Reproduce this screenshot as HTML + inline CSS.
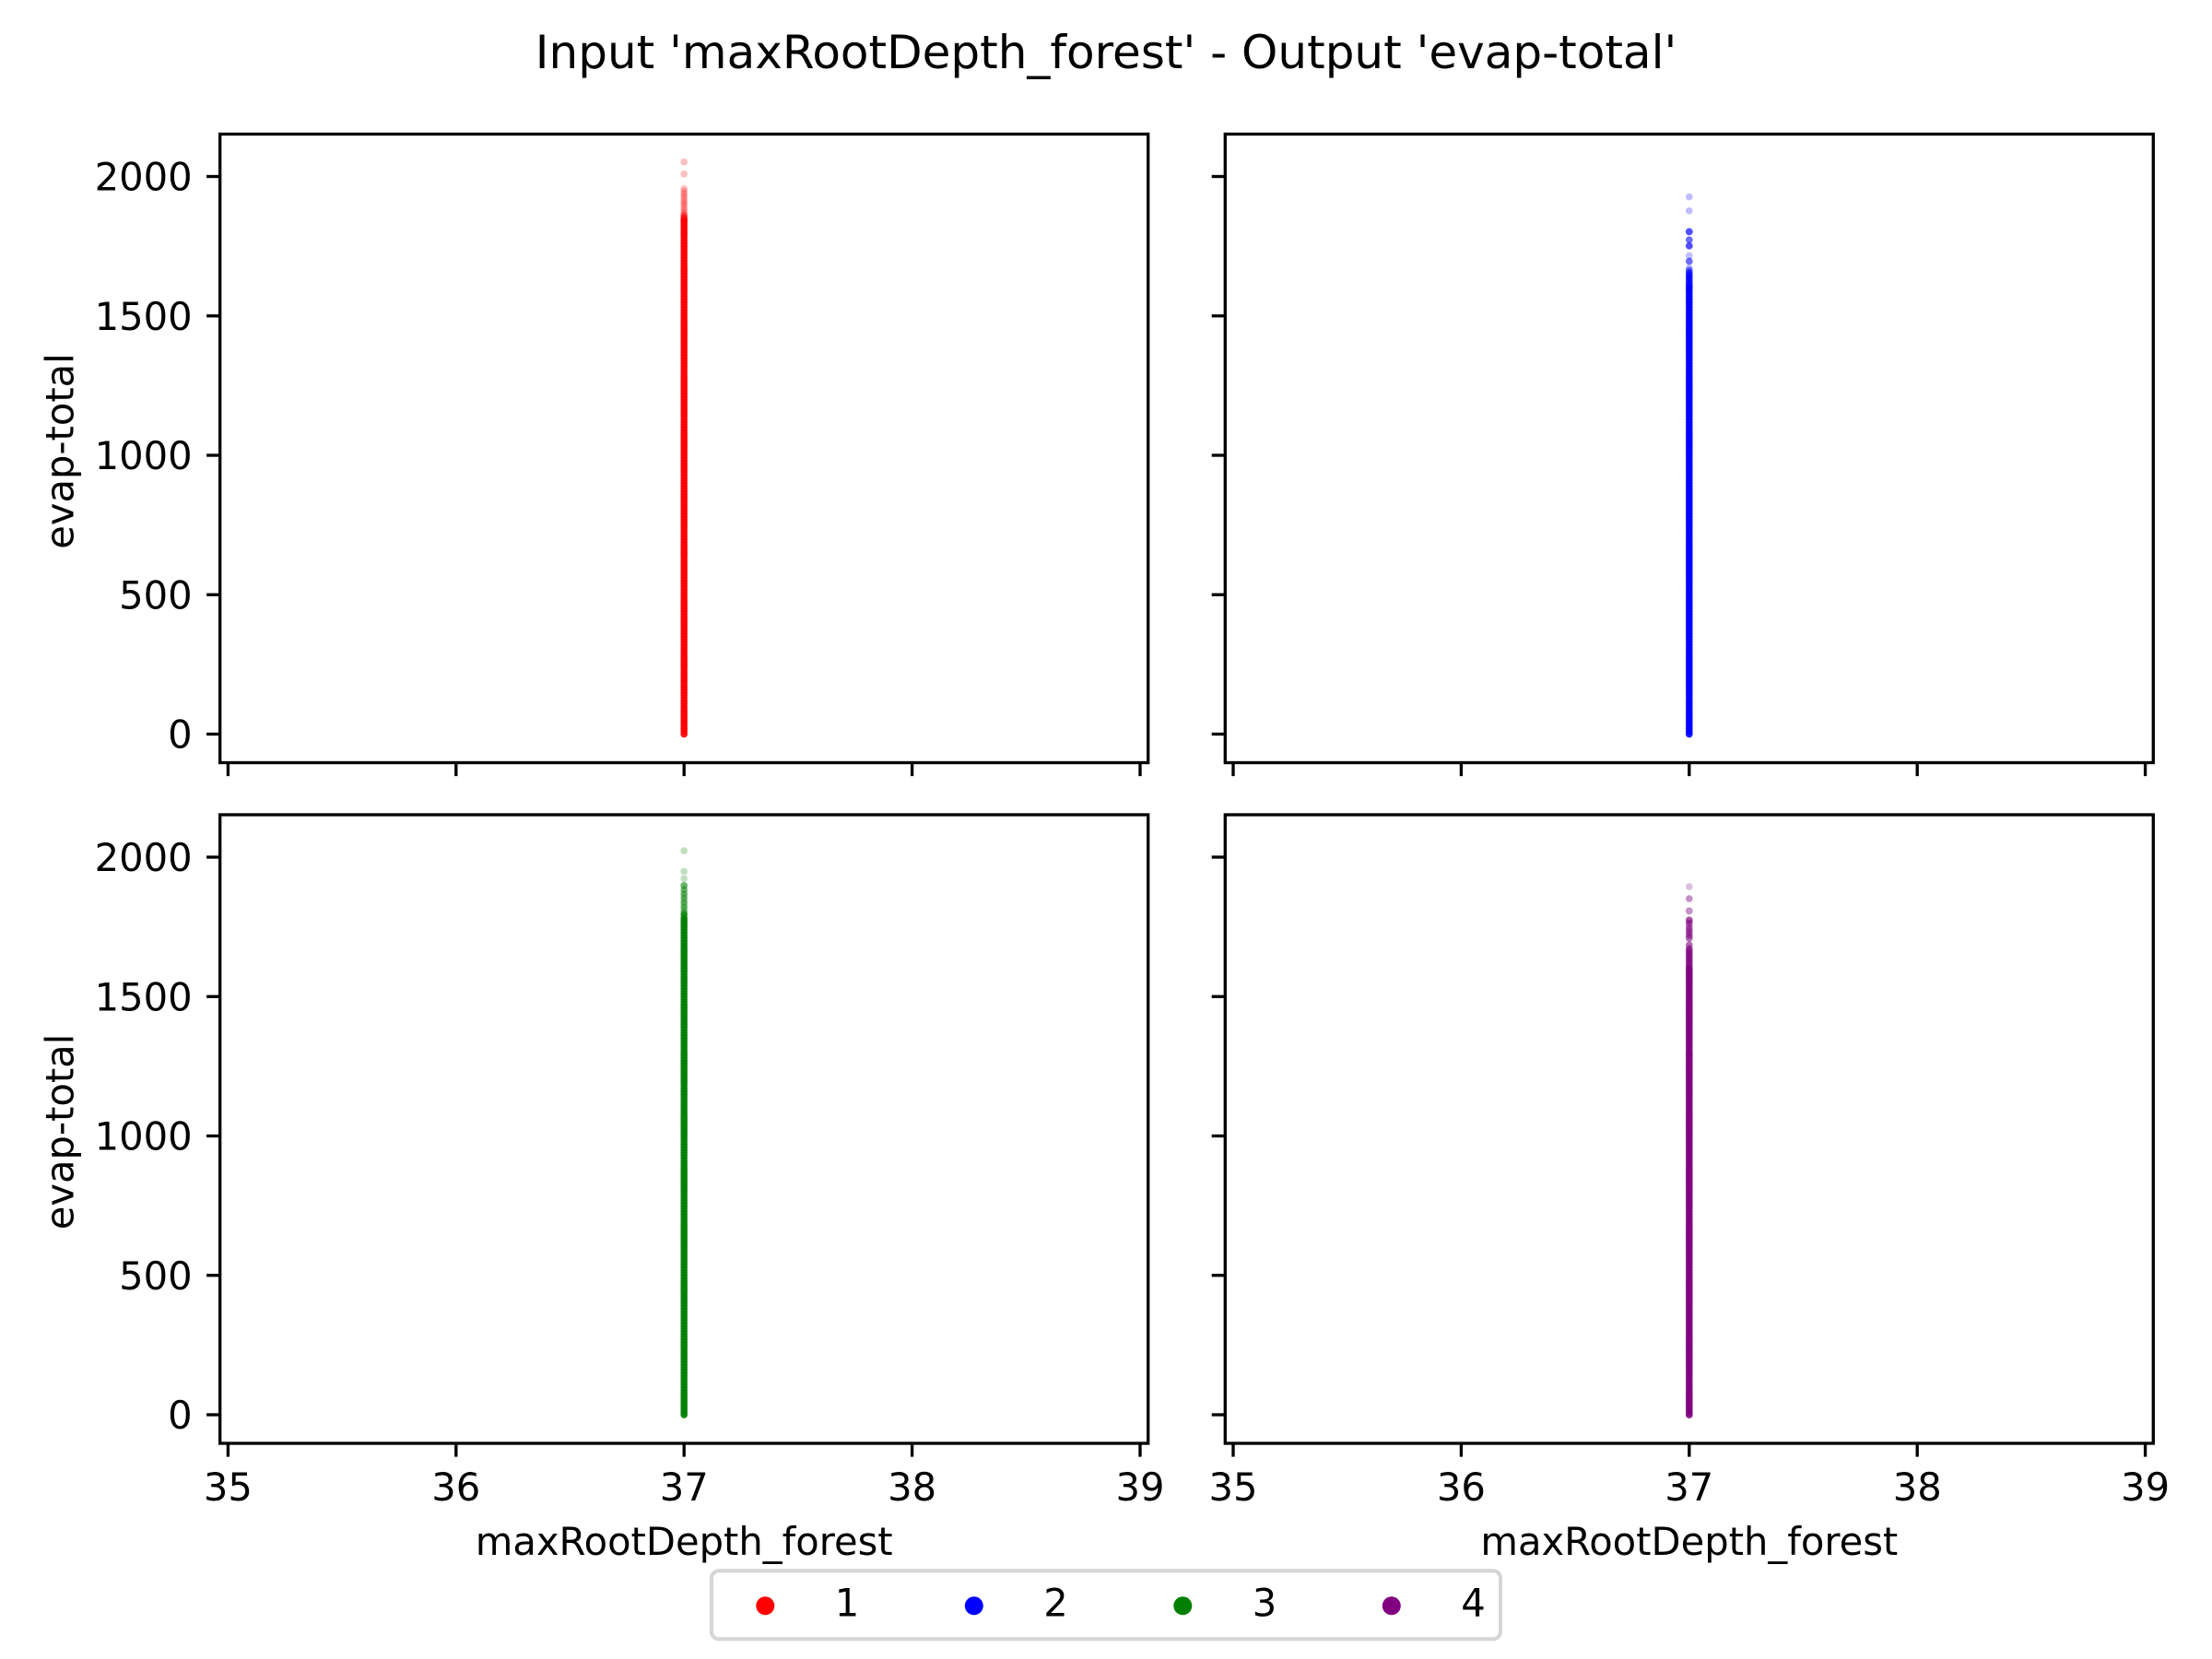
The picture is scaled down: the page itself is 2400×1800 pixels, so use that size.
<!DOCTYPE html>
<html lang="en">
<head>
<meta charset="utf-8">
<title>Input 'maxRootDepth_forest' - Output 'evap-total'</title>
<style>
html,body{margin:0;padding:0;background:#fff;width:2400px;height:1800px;overflow:hidden}
svg{display:block}
text{font-family:"DejaVu Sans","Liberation Sans",sans-serif;fill:#000}
</style>
</head>
<body>
<svg id="chart" xmlns="http://www.w3.org/2000/svg" width="2400" height="1800" viewBox="0 0 2400 1800">
  <rect x="0" y="0" width="2400" height="1800" fill="#fff"/>
  <text x="1200" y="74" font-size="50" text-anchor="middle">Input 'maxRootDepth_forest' - Output 'evap-total'</text>
  <g id="panels"></g>
  <g id="legend"></g>
</svg>
<script>
const xTicks = [35, 36, 37, 38, 39];
const yTicks = [0, 500, 1000, 1500, 2000];
const seriesLabels = ['1', '2', '3', '4'];
const seriesColors = ['#ff0000', '#0000ff', '#008000', '#800080'];
const xLabel = 'maxRootDepth_forest';
const yLabel = 'evap-total';
const inputValue = 37;

const redBody = [0,10,20,30,40,50,60,70,80,90,100,110,120,130,140,150,160,170,180,190,200,210,220,230,240,250,260,270,280,290,300,310,320,330,340,350,360,370,380,390,400,410,420,430,440,450,460,470,480,490,500,510,520,530,540,550,560,570,580,590,600,610,620,630,640,650,660,670,680,690,700,710,720,730,740,750,760,770,780,790,800,810,820,830,840,850,860,870,880,890,900,910,920,930,940,950,960,970,980,990,1000,1010,1020,1030,1040,1050,1060,1070,1080,1090,1100,1110,1120,1130,1140,1150,1160,1170,1180,1190,1200,1210,1220,1230,1240,1250,1260,1270,1280,1290,1300,1310,1320,1330,1340,1350,1360,1370,1380,1390,1400,1410,1420,1430,1440,1450,1460,1470,1480,1490,1500,1510,1520,1530,1540,1550,1560,1570,1580,1590,1600,1610,1620,1630,1640,1650,1660,1670,1680,1690,1700,1710,1720,1730,1740,1750,1760,1770,1780,1790,1800,1810,1820,1830,1840];
const redSparse = [2052,2009,1956,1947,1938,1930,1922,1912,1905,1897,1888,1880,1872,1866,1860,1860,1856,1852,1852,1848,1848,1846,1846];

const blueBody = [0,10,20,30,40,50,60,70,80,90,100,110,120,130,140,150,160,170,180,190,200,210,220,230,240,250,260,270,280,290,300,310,320,330,340,350,360,370,380,390,400,410,420,430,440,450,460,470,480,490,500,510,520,530,540,550,560,570,580,590,600,610,620,630,640,650,660,670,680,690,700,710,720,730,740,750,760,770,780,790,800,810,820,830,840,850,860,870,880,890,900,910,920,930,940,950,960,970,980,990,1000,1010,1020,1030,1040,1050,1060,1070,1080,1090,1100,1110,1120,1130,1140,1150,1160,1170,1180,1190,1200,1210,1220,1230,1240,1250,1260,1270,1280,1290,1300,1310,1320,1330,1340,1350,1360,1370,1380,1390,1400,1410,1420,1430,1440,1450,1460,1470,1480,1490,1500,1510,1520,1530,1540,1550,1560,1570,1580,1590,1600];
const blueSparse = [1927,1877,1802,1802,1802,1802,1773,1773,1773,1751,1751,1751,1751,1716,1696,1696,1696,1672,1664,1664,1658,1658,1652,1652,1652,1646,1646,1646,1640,1640,1640,1634,1634,1634,1628,1628,1628,1622,1622,1622,1616,1616,1616,1610,1610,1610,1605,1605,1605];

const greenBody = [0,10,20,30,40,50,60,70,80,90,100,110,120,130,140,150,160,170,180,190,200,210,220,230,240,250,260,270,280,290,300,310,320,330,340,350,360,370,380,390,400,410,420,430,440,450,460,470,480,490,500,510,520,530,540,550,560,570,580,590,600,610,620,630,640,650,660,670,680,690,700,710,720,730,740,750,760,770,780,790,800,810,820,830,840,850,860,870,880,890,900,910,920,930,940,950,960,970,980,990,1000,1010,1020,1030,1040,1050,1060,1070,1080,1090,1100,1110,1120,1130,1140,1150,1160,1170,1180,1190,1200,1210,1220,1230,1240,1250,1260,1270,1280,1290,1300,1310,1320,1330,1340,1350,1360,1370,1380,1390,1400,1410,1420,1430,1440,1450,1460,1470,1480,1490,1500,1510,1520,1530,1540,1550,1560,1570,1580,1590,1600,1610,1620,1630,1640,1650,1660,1670,1680,1690,1700,1710,1720,1730,1740,1750,1760,1770,1780];
const greenSparse = [2023,1949,1923,1898,1898,1898,1884,1884,1876,1868,1868,1860,1852,1852,1844,1836,1836,1828,1820,1820,1812,1804,1804,1796,1796,1796,1790,1790,1790];

const purpleBody = [0,10,20,30,40,50,60,70,80,90,100,110,120,130,140,150,160,170,180,190,200,210,220,230,240,250,260,270,280,290,300,310,320,330,340,350,360,370,380,390,400,410,420,430,440,450,460,470,480,490,500,510,520,530,540,550,560,570,580,590,600,610,620,630,640,650,660,670,680,690,700,710,720,730,740,750,760,770,780,790,800,810,820,830,840,850,860,870,880,890,900,910,920,930,940,950,960,970,980,990,1000,1010,1020,1030,1040,1050,1060,1070,1080,1090,1100,1110,1120,1130,1140,1150,1160,1170,1180,1190,1200,1210,1220,1230,1240,1250,1260,1270,1280,1290,1300,1310,1320,1330,1340,1350,1360,1370,1380,1390,1400,1410,1420,1430,1440,1450,1460,1470,1480,1490,1500,1510,1520,1530,1540,1550,1560,1570,1580,1590,1600];
const purpleSparse = [1894,1851,1851,1807,1807,1774,1774,1774,1774,1763,1763,1763,1752,1752,1742,1742,1742,1731,1731,1731,1720,1720,1720,1709,1709,1709,1685,1685,1685,1672,1672,1672,1665,1665,1665,1658,1658,1658,1650,1650,1650,1643,1643,1643,1636,1636,1636,1629,1629,1629,1622,1622,1622,1615,1615,1615,1608,1608,1608];

const bodyValues = [redBody, blueBody, greenBody, purpleBody];
const sparseValues = [redSparse, blueSparse, greenSparse, purpleSparse];

const SVG_NS = 'http://www.w3.org/2000/svg';
const panelBoxes = [
  { col: 0, row: 0 },
  { col: 1, row: 0 },
  { col: 0, row: 1 },
  { col: 1, row: 1 }
];
const colLeft = [238.7, 1329.3];
const rowTop = [145.5, 884];
const panelWidth = 1007;
const panelHeight = 682;
const xDomain = [34.9648, 39.0352];
const yZeroOffset = 651;
const yPerUnit = 0.3025;
const tickLen = 14.6;
const lineW = 3.33;
const markerRadius = 3.85;

function make(tag, attrs, parent) {
  const el = document.createElementNS(SVG_NS, tag);
  for (const k in attrs) el.setAttribute(k, attrs[k]);
  parent.appendChild(el);
  return el;
}
function xScale(col, v) {
  return colLeft[col] + (v - xDomain[0]) / (xDomain[1] - xDomain[0]) * panelWidth;
}
function yScale(row, v) {
  return rowTop[row] + yZeroOffset - v * yPerUnit;
}

const panelsRoot = document.getElementById('panels');
panelBoxes.forEach(function (box, i) {
  const col = box.col, row = box.row;
  const n = seriesLabels[i];
  const g = make('g', {}, panelsRoot);
  
  

  const bg = make('rect', { x: colLeft[col], y: rowTop[row], width: panelWidth, height: panelHeight, fill: '#fff' }, g);
  
  

  const marks = make('g', { fill: seriesColors[i] }, g);
  
  
  bodyValues[i].forEach(function (v) {
    const c = make('circle', { cx: xScale(col, inputValue), cy: yScale(row, v), r: markerRadius, 'fill-opacity': 0.9 }, marks);
    
    
  });
  sparseValues[i].forEach(function (v) {
    const c = make('circle', { cx: xScale(col, inputValue), cy: yScale(row, v), r: markerRadius, 'fill-opacity': 0.25 }, marks);
    
    
  });

  xTicks.forEach(function (t) {
    const x = xScale(col, t);
    const yBase = rowTop[row] + panelHeight;
    const tick = make('line', { x1: x, x2: x, y1: yBase, y2: yBase + tickLen, stroke: '#000', 'stroke-width': lineW }, g);
    
    
    if (row === 1) {
      const label = make('text', { x: x, y: yBase + 62, 'font-size': 41.67, 'text-anchor': 'middle' }, g);
      label.textContent = String(t);
      
      
    }
  });

  yTicks.forEach(function (t) {
    const y = yScale(row, t);
    const xBase = colLeft[col];
    const tick = make('line', { x1: xBase - tickLen, x2: xBase, y1: y, y2: y, stroke: '#000', 'stroke-width': lineW }, g);
    
    
    if (col === 0) {
      const label = make('text', { x: xBase - 30, y: y + 15.2, 'font-size': 41.67, 'text-anchor': 'end' }, g);
      label.textContent = String(t);
      
      
    }
  });

  const frame = make('rect', { x: colLeft[col], y: rowTop[row], width: panelWidth, height: panelHeight, fill: 'none', stroke: '#000', 'stroke-width': lineW }, g);
  
  

  if (row === 1) {
    const xt = make('text', { x: colLeft[col] + panelWidth / 2, y: rowTop[row] + panelHeight + 121, 'font-size': 41.67, 'text-anchor': 'middle' }, g);
    xt.textContent = xLabel;
    
    
  }
  if (col === 0) {
    const cy = rowTop[row] + panelHeight / 2 + 3;
    const yt = make('text', { x: 79.5, y: cy, 'font-size': 41.67, 'text-anchor': 'middle', transform: 'rotate(-90 79.5 ' + cy + ')' }, g);
    yt.textContent = yLabel;
    
    
  }
});

const legendRoot = document.getElementById('legend');
const legendBox = make('rect', { x: 772, y: 1704.3, width: 856, height: 74, rx: 8, ry: 8, fill: '#fff', stroke: '#d6d6d6', 'stroke-width': 4.17 }, legendRoot);


seriesLabels.forEach(function (lab, i) {
  const entry = make('g', {}, legendRoot);
  
  
  const markerX = 830.3 + i * 226.5;
  const marker = make('circle', { cx: markerX, cy: 1742.3, r: 10, fill: seriesColors[i] }, entry);
  
  
  const text = make('text', { x: markerX + 88.7, y: 1753.3, 'font-size': 41.67, 'text-anchor': 'middle' }, entry);
  text.textContent = lab;
  
  
});
</script>
</body>
</html>
